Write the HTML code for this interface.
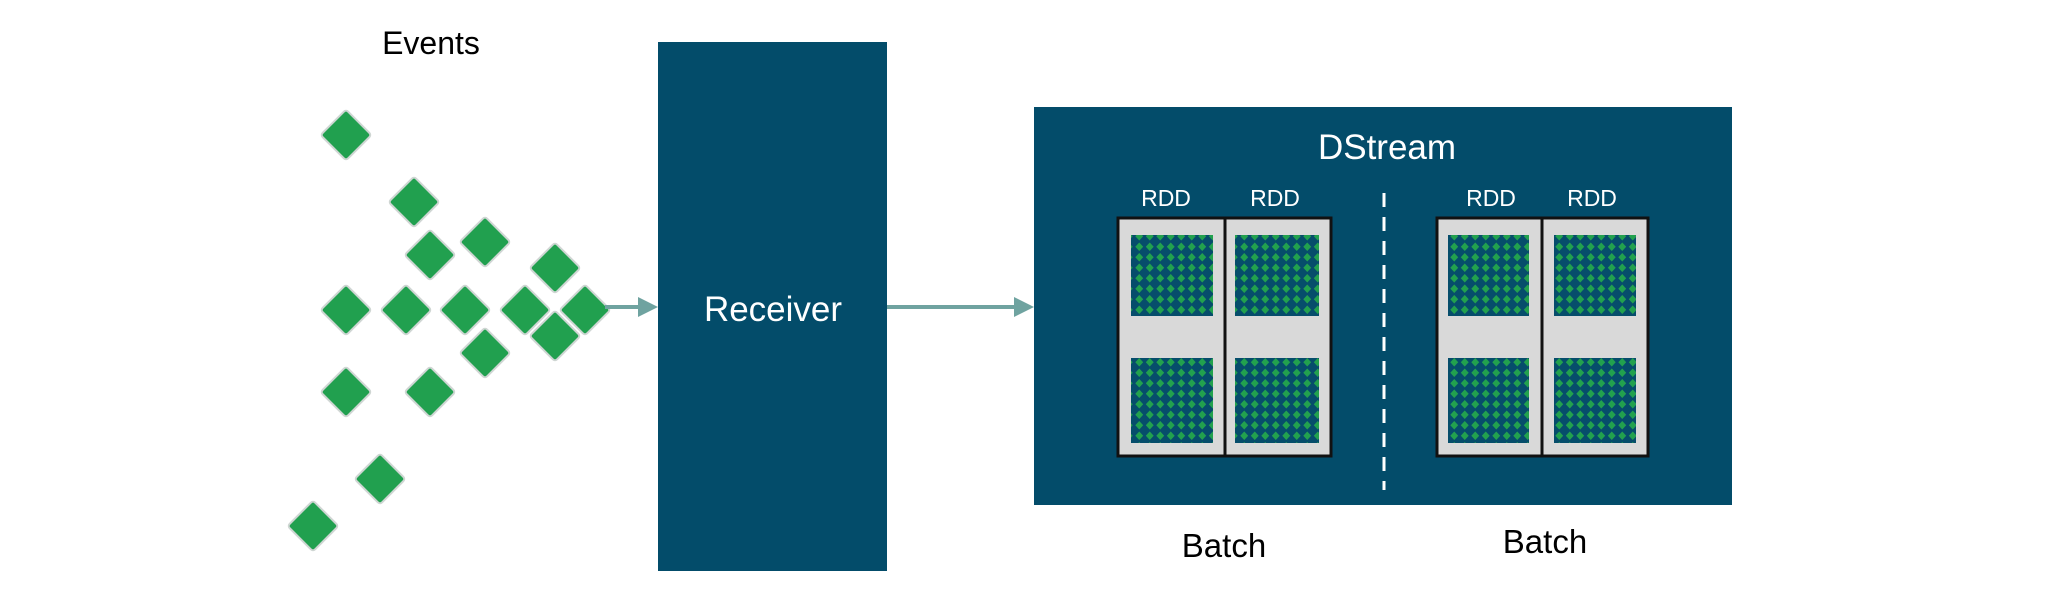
<!DOCTYPE html>
<html><head><meta charset="utf-8"><style>
html,body{margin:0;padding:0;background:#fff;}
svg{display:block;font-family:"Liberation Sans",sans-serif;}
</style></head><body>
<svg width="2048" height="590" viewBox="0 0 2048 590" xmlns="http://www.w3.org/2000/svg">
<defs>
<pattern id="dots" x="0" y="0" width="10.5" height="10.5" patternUnits="userSpaceOnUse">
<rect width="10.5" height="10.5" fill="#064d6b"/>
<polygon points="5.25,1 9.2,5.25 5.25,9.5 1.3,5.25" fill="#22a14e"/>
</pattern>
<g id="dm"><rect x="-18" y="-18" width="36" height="36" rx="3" fill="#21a04f" stroke="#cfd6d3" stroke-width="2" transform="rotate(45)"/></g>
</defs>
<text x="431" y="54" font-size="32" text-anchor="middle" fill="#000">Events</text>
<g>
<use href="#dm" x="346" y="135"/><use href="#dm" x="414" y="202"/>
<use href="#dm" x="430" y="255"/><use href="#dm" x="485" y="242"/>
<use href="#dm" x="555" y="268"/>
<use href="#dm" x="346" y="310"/><use href="#dm" x="406" y="310"/>
<use href="#dm" x="465" y="310"/><use href="#dm" x="525" y="310"/>
<use href="#dm" x="555" y="336"/><use href="#dm" x="585" y="310"/>
<use href="#dm" x="485" y="353"/>
<use href="#dm" x="346" y="392"/><use href="#dm" x="430" y="392"/>
<use href="#dm" x="380" y="479"/><use href="#dm" x="313" y="526"/>
</g>
<line x1="605" y1="307" x2="640" y2="307" stroke="#6fa3a0" stroke-width="4"/>
<polygon points="638,297 658,307 638,317" fill="#6fa3a0"/>
<rect x="658" y="42" width="229" height="529" fill="#034c6a"/>
<text x="773" y="321" font-size="35" text-anchor="middle" fill="#fff">Receiver</text>
<line x1="887" y1="307" x2="1016" y2="307" stroke="#6fa3a0" stroke-width="4"/>
<polygon points="1014,297 1034,307 1014,317" fill="#6fa3a0"/>
<rect x="1034" y="107" width="698" height="398" fill="#034c6a"/>
<text x="1387" y="159" font-size="35" text-anchor="middle" fill="#fff">DStream</text>
<g font-size="23" fill="#fff" text-anchor="middle">
<text x="1166" y="206">RDD</text><text x="1275" y="206">RDD</text>
<text x="1491" y="206">RDD</text><text x="1592" y="206">RDD</text>
</g>
<line x1="1384" y1="193" x2="1384" y2="490" stroke="#fff" stroke-width="3" stroke-dasharray="14,10"/>
<g stroke="#111" stroke-width="3" fill="#d9d9d9">
<rect x="1118" y="218" width="107" height="238"/><rect x="1225" y="218" width="106" height="238"/>
<rect x="1437" y="218" width="105" height="238"/><rect x="1542" y="218" width="106" height="238"/>
</g>
<g fill="url(#dots)">
<rect x="1131" y="235" width="82" height="81"/><rect x="1131" y="358" width="82" height="85"/>
<rect x="1235" y="235" width="84" height="81"/><rect x="1235" y="358" width="84" height="85"/>
<rect x="1448" y="235" width="81" height="81"/><rect x="1448" y="358" width="81" height="85"/>
<rect x="1554" y="235" width="82" height="81"/><rect x="1554" y="358" width="82" height="85"/>
</g>
<text x="1224" y="557" font-size="33" text-anchor="middle" fill="#000">Batch</text>
<text x="1545" y="553" font-size="33" text-anchor="middle" fill="#000">Batch</text>
</svg>
</body></html>
